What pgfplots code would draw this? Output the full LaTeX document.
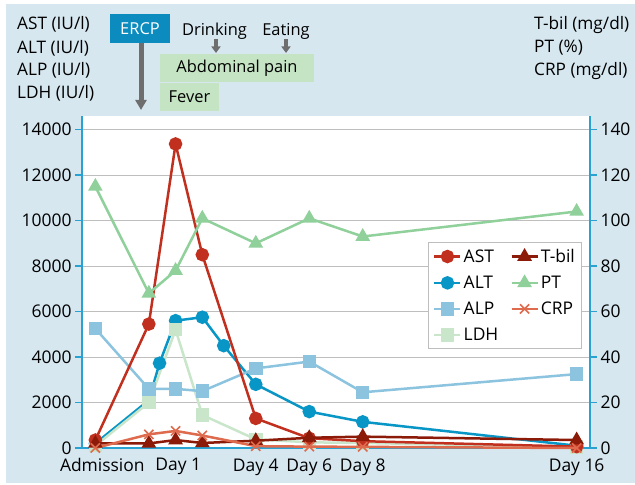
\documentclass[border=0pt]{standalone}
\usepackage{fontspec}
\setmainfont{Open Sans}
\usepackage{pgfplots}
\pgfplotsset{compat=1.18}
\usetikzlibrary{arrows.meta}
\definecolor{bgcol}{HTML}{D6E7F0}
\definecolor{ercpcol}{HTML}{0C8BBE}
\definecolor{boxgreen}{HTML}{C4E4C3}
\definecolor{arrgray}{HTML}{6E6E6E}
\definecolor{axcol}{HTML}{29A2D1}
\definecolor{gridcol}{HTML}{BEBEBE}
\definecolor{astcol}{HTML}{C1301F}
\definecolor{tbilcol}{HTML}{8C1A08}
\definecolor{altcol}{HTML}{0896C6}
\definecolor{ptcol}{HTML}{90D09A}
\definecolor{alpcol}{HTML}{8CC4E0}
\definecolor{crpcol}{HTML}{DE6B4E}
\definecolor{ldhcol}{HTML}{C9E6CB}
\pgfplotsset{
  astS/.style={astcol, line width=2.5bp, mark=*, mark size=5.5bp, mark options={solid, fill=astcol, draw=astcol}},
  altS/.style={altcol, line width=2.5bp, mark=*, mark size=5.5bp, mark options={solid, fill=altcol, draw=altcol}},
  alpS/.style={alpcol, line width=2.5bp, mark=square*, mark size=5.5bp, mark options={solid, fill=alpcol, draw=alpcol}},
  ldhS/.style={ldhcol, line width=2.5bp, mark=square*, mark size=5.5bp, mark options={solid, fill=ldhcol, draw=ldhcol}},
  tbilS/.style={tbilcol, line width=2.5bp, mark=triangle*, mark size=6bp, mark options={solid, fill=tbilcol, draw=tbilcol}},
  ptS/.style={ptcol, line width=2.5bp, mark=triangle*, mark size=6bp, mark options={solid, fill=ptcol, draw=ptcol}},
  crpS/.style={crpcol, line width=2.5bp, mark=x, mark size=6.5bp, mark options={solid, line width=1.6bp, draw=crpcol}},
}
\newcommand{\fmain}{\fontsize{17.5}{20}\selectfont}
\newcommand{\fhead}{\fontsize{17.3}{21}\selectfont}
\newcommand{\fann}{\fontsize{16.5}{19}\selectfont}
\begin{document}
\begin{tikzpicture}[x=1bp,y=1bp]
\path[use as bounding box, fill=white] (0,0) rectangle (635,485);
\fill[bgcol] (6,2) rectangle (635,481);
% header labels
\node[anchor=base west, inner sep=0pt, font=\fhead] at (17,455.7) {AST (IU/l)};
\node[anchor=base west, inner sep=0pt, font=\fhead] at (17,431.7) {ALT (IU/l)};
\node[anchor=base west, inner sep=0pt, font=\fhead] at (17,409) {ALP (IU/l)};
\node[anchor=base west, inner sep=0pt, font=\fhead] at (17,386.7) {LDH (IU/l)};
\node[anchor=base west, inner sep=0pt, font=\fhead] at (534,455) {T-bil (mg/dl)};
\node[anchor=base west, inner sep=0pt, font=\fhead] at (534,432) {PT (\%)};
\node[anchor=base west, inner sep=0pt, font=\fhead] at (534,409) {CRP (mg/dl)};
% ERCP
\fill[ercpcol] (110,471) rectangle (170,442);
\node[text=white, font=\fann, inner sep=0pt] at (140,456.5) {ERCP};
\draw[arrgray, line width=5bp, -{Triangle[length=10bp,width=11bp]}] (141,442) -- (141,375);
% Drinking / Eating
\node[anchor=base, inner sep=0pt, font=\fann] at (214.5,449.3) {Drinking};
\node[anchor=base, inner sep=0pt, font=\fann] at (286,449.3) {Eating};
\draw[arrgray, line width=3.2bp, -{Triangle[length=6.5bp,width=9bp]}] (216,446) -- (216,432);
\draw[arrgray, line width=3.2bp, -{Triangle[length=6.5bp,width=9bp]}] (286,446) -- (286,432);
% boxes
\fill[boxgreen] (160,431) rectangle (314,403);
\node[font=\fann, inner sep=0pt] at (237,417) {Abdominal pain};
\fill[boxgreen] (160,402) rectangle (219,374);
\node[font=\fann, inner sep=0pt] at (189.5,388) {Fever};

\begin{axis}[
  at={(82bp,37bp)}, anchor=south west, scale only axis,
  width=508bp, height=332bp,
  xmin=-2.5, xmax=16.5, ymin=0, ymax=14600,
  axis background/.style={fill=white},
  axis x line*=bottom, axis y line*=left,
  axis line style={axcol, line width=1.5bp},
  ytick={0,2000,...,14000},
  scaled y ticks=false,
  ymajorgrids, grid style={gridcol, line width=1bp},
  xtick={-1.74,1.1,4,6,8,16},
  xticklabels={Admission,Day 1,Day 4,Day 6,Day 8,Day 16},
  x tick style={draw=none},
  y tick style={axcol, line width=1.5bp},
  tick align=outside, major tick length=7bp,
  tick label style={font=\fmain},
  /pgf/number format/assume math mode=true,
  /pgf/number format/1000 sep={},
  clip=false,
]
\addplot[altS] coordinates {(-2,200) (0,2100) (0.4,3730) (1,5600) (2,5750) (2.8,4500) (4,2800) (6,1600) (8,1150) (16,100)};
\addplot[ldhS] coordinates {(-2,100) (0,2000) (1,5200) (2,1450) (4,380) (6,250) (8,220) (16,50)};
\addplot[alpS] coordinates {(-2,5250) (0,2600) (1,2600) (2,2500) (4,3500) (6,3800) (8,2450) (16,3250)};
\addplot[astS] coordinates {(-2,350) (0,5450) (1,13370) (2,8500) (4,1300) (6,430) (8,300) (16,60)};
\end{axis}

\begin{axis}[
  at={(82bp,37bp)}, anchor=south west, scale only axis,
  width=508bp, height=332bp,
  xmin=-2.5, xmax=16.5, ymin=0, ymax=146,
  axis y line*=right, axis x line=none,
  axis line style={axcol, line width=1.5bp},
  ytick={0,20,...,140},
  y tick style={axcol, line width=1.5bp},
  tick align=outside, major tick length=7bp,
  tick label style={font=\fmain},
  /pgf/number format/assume math mode=true,
  clip=false,
  legend columns=2,
  legend style={at={(0.984,0.620)}, anchor=north east, draw=gridcol, line width=1bp,
    fill=white, font=\fmain, inner sep=4.5bp, row sep=8bp,
    /tikz/every even column/.append style={column sep=10bp}},
  legend cell align=left,
  legend image code/.code={\draw[#1] (0bp,0bp) -- (26bp,0bp); \draw[#1, mark repeat=2, mark phase=2] plot coordinates {(0bp,0bp) (13bp,0bp) (26bp,0bp)};},
]
\addlegendimage{astS}\addlegendentry{AST}
\addlegendimage{tbilS}\addlegendentry{T-bil}
\addlegendimage{altS}\addlegendentry{ALT}
\addlegendimage{ptS}\addlegendentry{PT}
\addlegendimage{alpS}\addlegendentry{ALP}
\addlegendimage{crpS}\addlegendentry{CRP}
\addlegendimage{ldhS}\addlegendentry{LDH}
\addplot[ptS, forget plot] coordinates {(-2,115) (0,68) (1,78) (2,101) (4,90) (6,101) (8,93) (16,104)};
\addplot[tbilS, forget plot] coordinates {(-2,2) (0,2) (1,3.5) (2,2.2) (4,3.2) (6,4.5) (8,5) (16,3.5)};
\addplot[crpS, forget plot] coordinates {(-2,0) (0,6) (1,7.5) (2,5.5) (4,0.8) (6,0.6) (8,0.5) (16,0)};
\end{axis}
\end{tikzpicture}
\end{document}
